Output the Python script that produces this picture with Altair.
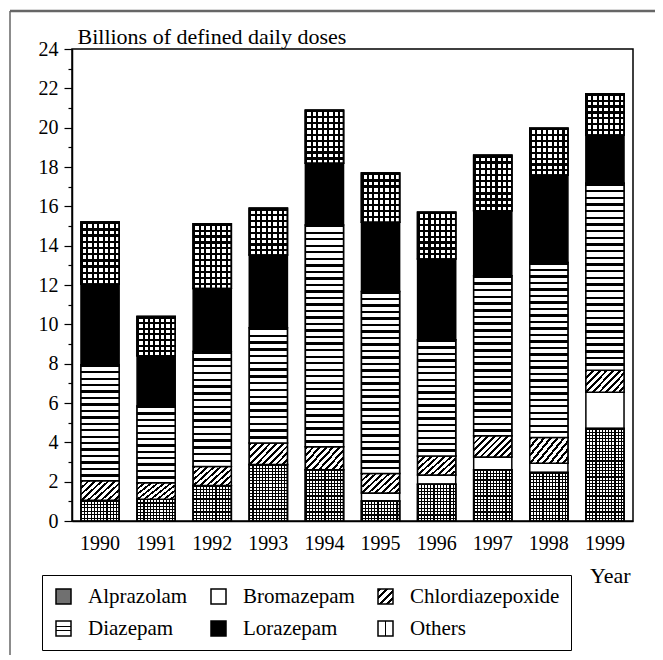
import altair as alt
import pandas as pd

years = ["1990", "1991", "1992", "1993", "1994", "1995", "1996", "1997", "1998", "1999"]
drugs = ["Alprazolam", "Bromazepam", "Chlordiazepoxide", "Diazepam", "Lorazepam", "Others"]
alprazolam = [1.05, 1.10, 1.80, 2.87, 2.60, 1.02, 1.87, 2.60, 2.46, 4.70]
bromazepam = [0.00, 0.00, 0.00, 0.00, 0.00, 0.40, 0.47, 0.66, 0.48, 1.85]
chlordiazepoxide = [1.00, 0.85, 0.97, 1.10, 1.17, 1.00, 0.97, 1.07, 1.30, 1.12]
diazepam = [5.90, 3.90, 5.85, 5.85, 11.28, 9.25, 5.90, 8.14, 8.91, 9.50]
lorazepam = [4.10, 2.55, 3.20, 3.70, 3.14, 3.52, 4.11, 3.31, 4.44, 2.46]
others = [3.15, 2.00, 3.30, 2.38, 2.70, 2.50, 2.38, 2.82, 2.38, 2.10]

series = [alprazolam, bromazepam, chlordiazepoxide, diazepam, lorazepam, others]
rows = []
for k, (name, vals) in enumerate(zip(drugs, series)):
    for y, v in zip(years, vals):
        rows.append({"year": y, "drug": name, "k": k, "value": v})
df = pd.DataFrame(rows)

FONT = "Times New Roman, Liberation Serif, DejaVu Serif, serif"
PLOT_W, PLOT_H, Y_MAX = 561, 472, 24
PX_PER_UNIT = PLOT_H / Y_MAX


# ---------- pattern helpers (linear gradients with hard stops) ----------
def stripe_stops(n, frac, fg="black", bg="white"):
    out = []
    for i in range(n):
        a, b, c = i / n, (i + frac) / n, (i + 1) / n
        out += [(a, fg), (b, fg), (b, bg), (c, bg)]
    return [(round(o, 4), col) for o, col in out]


def gradient(stops, x2, y2):
    return alt.LinearGradient(
        gradient="linear",
        stops=[alt.GradientStop(color=c, offset=o) for o, c in stops],
        x1=0, y1=0, x2=x2, y2=y2,
    )


def gradient_expr(stops, x2, y2):
    s = ",".join("{offset:%g,color:'%s'}" % (o, c) for o, c in stops)
    return alt.ExprRef(expr="{gradient:'linear',x1:0,y1:0,x2:%g,y2:%g,stops:[%s]}" % (x2, y2, s))


# legend swatches (also base fill, later covered by the finer patterns)
legend_range = [
    "#707070",
    "#ffffff",
    gradient_expr(stripe_stops(4, 0.45), 1, 1),
    gradient_expr([(0, "white"), (0.3, "white"), (0.3, "black"), (0.38, "black"), (0.38, "white"),
                   (0.62, "white"), (0.62, "black"), (0.7, "black"), (0.7, "white"), (1, "white")], 0, 1),
    "#000000",
    gradient_expr([(0, "white"), (0.45, "white"), (0.45, "black"), (0.55, "black"), (0.55, "white"), (1, "white")], 1, 0),
]

x_axis = alt.Axis(
    title="Year",
    labelAngle=0,
    ticks=False,
    labelPadding=12,
    labelFontSize=20,
    labelFont=FONT,
    labelColor="black",
    domainColor="black",
    domainWidth=1.5,
    titleFont=FONT,
    titleFontSize=22,
    titleFontWeight="normal",
    titleColor="black",
    titleAlign="right",
    titleBaseline="alphabetic",
    titleX=558,
    titleY=61,
)
y_axis = alt.Axis(
    title="Billions of defined daily doses",
    values=list(range(0, 25)),
    labelExpr="datum.value % 2 === 0 ? datum.label : ''",
    tickSize={"condition": {"test": "datum.value % 2 === 0", "value": 8}, "value": 4},
    tickColor="black",
    tickWidth=1.2,
    labelPadding=6,
    labelFontSize=20,
    labelFont=FONT,
    labelColor="black",
    domainColor="black",
    domainWidth=1.5,
    grid=False,
    titleAngle=0,
    titleAlign="left",
    titleBaseline="alphabetic",
    titleX=5,
    titleY=-6,
    titleFont=FONT,
    titleFontSize=22,
    titleFontWeight="normal",
    titleColor="black",
)
x_scale = alt.Scale(paddingInner=0.32, paddingOuter=0.16)
y_scale = alt.Scale(domain=[0, Y_MAX], nice=False)

bars = (
    alt.Chart(df)
    .transform_filter("datum.value > 0")
    .mark_bar(stroke="black", strokeWidth=1.5)
    .encode(
        x=alt.X("year:N", sort=years, scale=x_scale, axis=x_axis),
        y=alt.Y("value:Q", stack="zero", scale=y_scale, axis=y_axis),
        color=alt.Color(
            "drug:N",
            sort=drugs,
            scale=alt.Scale(domain=drugs, range=legend_range),
            title=None,
            legend=alt.Legend(
                orient="none",
                legendX=-30,
                legendY=526,
                direction="horizontal",
                columns=3,
                columnPadding=20,
                rowPadding=10,
                symbolType="square",
                symbolSize=225,
                symbolStrokeColor="black",
                symbolStrokeWidth=1.5,
                symbolOpacity=1,
                labelFont=FONT,
                labelFontSize=21,
                labelColor="black",
                labelOffset=14,
                labelLimit=300,
                strokeColor="black",
                padding=11,
            ),
        ),
        order=alt.Order("k:Q", sort="ascending"),
    )
)


def overlay(filter_expr, fill):
    return (
        alt.Chart(df)
        .transform_filter("datum.value > 0")
        .transform_stack(
            stack="value",
            groupby=["year"],
            as_=["y0", "y1"],
            sort=[alt.SortField(field="k", order="ascending")],
        )
        .transform_filter(filter_expr)
        .mark_bar(fill=fill, stroke="black", strokeWidth=1.5)
        .encode(
            x=alt.X("year:N", sort=years, scale=x_scale, axis=x_axis),
            y=alt.Y("y0:Q", scale=y_scale, axis=y_axis),
            y2="y1:Q",
        )
    )


def grouped_by_count(vals, period):
    groups = {}
    for y, v in zip(years, vals):
        if v > 0:
            n = max(1, round(v * PX_PER_UNIT / period))
            groups.setdefault(n, []).append(y)
    return groups


def in_years(ys):
    return "indexof([%s], datum.year) >= 0" % ",".join("'%s'" % y for y in ys)


layers = [bars]

# Alprazolam: fine dotted grid (checker look)
for n, ys in grouped_by_count(alprazolam, 3.2).items():
    layers.append(overlay("datum.drug === 'Alprazolam' && " + in_years(ys),
                          gradient(stripe_stops(n, 0.36), 0, 1)))
layers.append(overlay("datum.drug === 'Alprazolam'",
                      gradient(stripe_stops(12, 0.36, bg="transparent"), 1, 0)))

# Chlordiazepoxide: diagonal hatch
layers.append(overlay("datum.drug === 'Chlordiazepoxide'",
                      gradient(stripe_stops(9, 0.42), 1.2, 0.66)))

# Diazepam: horizontal stripes
for n, ys in grouped_by_count(diazepam, 6.6).items():
    layers.append(overlay("datum.drug === 'Diazepam' && " + in_years(ys),
                          gradient(stripe_stops(n, 0.36), 0, 1)))

# Others: square grid
for n, ys in grouped_by_count(others, 6.0).items():
    layers.append(overlay("datum.drug === 'Others' && " + in_years(ys),
                          gradient(stripe_stops(n, 0.38), 0, 1)))
layers.append(overlay("datum.drug === 'Others'",
                      gradient(stripe_stops(7, 0.38, bg="transparent"), 1, 0)))

frame_data = alt.Data(values=[{"f": 1}])
layers.append(alt.Chart(frame_data).mark_rule(color="#666666", strokeWidth=2.5).encode(
    x=alt.value(-62), x2=alt.value(600), y=alt.value(-38)
))
layers.append(alt.Chart(frame_data).mark_rule(color="#666666", strokeWidth=1.5).encode(
    x=alt.value(-62), y=alt.value(-38), y2=alt.value(620)
))

chart = (
    alt.layer(*layers)
    .properties(
        width=PLOT_W,
        height=PLOT_H,
        autosize=alt.AutoSizeParams(type="none"),
        padding={"left": 64, "top": 41, "right": 22, "bottom": 134},
        background="white",
    )
    .configure_view(stroke="black", strokeWidth=1.5)
)

chart.save("out.html", embed_options={"renderer": "svg", "actions": False})
